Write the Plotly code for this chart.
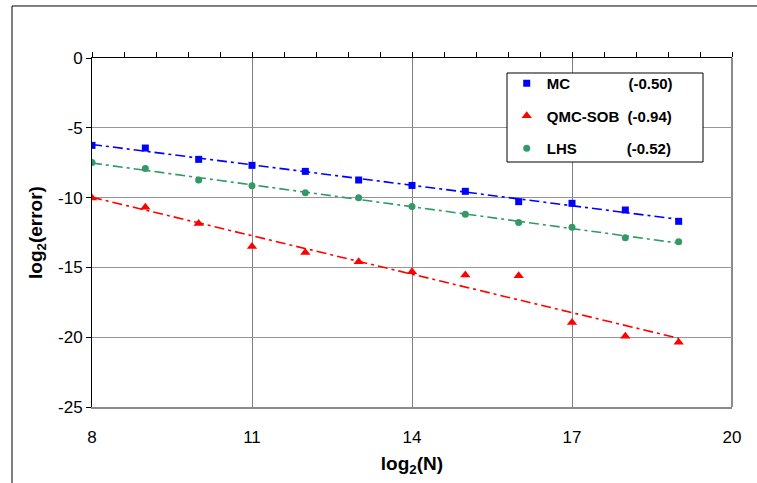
import numpy as np
import plotly.graph_objects as go

# ---- data ----
log2N = [8, 9, 10, 11, 12, 13, 14, 15, 16, 17, 18, 19]
mc = [-6.26, -6.45, -7.26, -7.69, -8.12, -8.74, -9.13, -9.55, -10.29, -10.41, -10.89, -11.70]
qmc = [-10.03, -10.70, -11.85, -13.50, -13.93, -14.59, -15.32, -15.55, -15.60, -18.94, -19.94, -20.37]
lhs = [-7.48, -7.91, -8.74, -9.15, -9.65, -10.01, -10.63, -11.20, -11.78, -12.13, -12.87, -13.16]
series_names = ["MC", "QMC-SOB", "LHS"]
slope_labels = ["(-0.50)", "(-0.94)", "(-0.52)"]
x_ticks = [8, 11, 14, 17, 20]
y_ticks = [0, -5, -10, -15, -20, -25]
y_ticktext = ["0", "-5", "-10", "-15", "-20", "-25"]

colors = ["#0000FF", "#FF0000", "#339966"]
symbols = ["square", "triangle-up", "circle"]
msizes = [7, 9, 7]
pads = [14, 2, 12]
FONT = "Arial, 'Liberation Sans', sans-serif"
NB = "\u00a0"

fig = go.Figure()
x = np.array(log2N, dtype=float)
for i, ys in enumerate([mc, qmc, lhs]):
    ys = np.array(ys)
    name = series_names[i] + NB * pads[i] + slope_labels[i]
    fig.add_trace(go.Scatter(
        x=x, y=ys, mode="markers", name=name, legendgroup=series_names[i],
        marker=dict(symbol=symbols[i], size=msizes[i], color=colors[i], line=dict(width=0)),
    ))
    k, b = np.polyfit(x, ys, 1)
    fig.add_trace(go.Scatter(
        x=x, y=k * x + b, mode="lines", showlegend=False, xaxis="x2",
        line=dict(color=colors[i], width=1.6, dash="10px,4px,3px,4px"),
        hoverinfo="skip",
    ))

fig.update_layout(
    width=757, height=483,
    margin=dict(l=92, r=25, t=58, b=76),
    paper_bgcolor="white", plot_bgcolor="white",
    font=dict(family=FONT, color="black"),
    showlegend=True,
    legend=dict(
        x=0.648, y=0.974, xanchor="left", yanchor="top",
        borderwidth=0, bgcolor="rgba(0,0,0,0)",
        font=dict(family=FONT, size=15, color="black", weight="bold"),
        tracegroupgap=10, itemsizing="trace",
    ),
    xaxis=dict(
        range=[8, 20], tickvals=x_ticks, showgrid=True, gridcolor="#808080", gridwidth=1,
        showline=True, linecolor="#8a8a8a", linewidth=2, ticks="", zeroline=False,
        tickfont=dict(size=17, family=FONT), ticklabelstandoff=14,
        title=dict(text="<b>log<sub>2</sub>(N)</b>", font=dict(size=19, family=FONT), standoff=10),
    ),
    xaxis2=dict(
        range=[8, 20], overlaying="x", side="top", anchor="y", tick0=8, dtick=0.6,
        ticks="outside", ticklen=5, tickcolor="black", showticklabels=False,
        showline=True, linecolor="black", linewidth=1, showgrid=False, zeroline=False,
    ),
    yaxis=dict(
        range=[-25, 0], tickvals=y_ticks, ticktext=y_ticktext, showgrid=True,
        gridcolor="#969696", gridwidth=1,
        showline=True, linecolor="black", linewidth=1, ticks="outside", ticklen=5,
        tickcolor="black", zeroline=False, tickfont=dict(size=17, family=FONT),
        title=dict(text="<b>log<sub>2</sub>(error)</b>", font=dict(size=19, family=FONT), standoff=10),
    ),
    shapes=[
        dict(type="line", xref="paper", yref="paper", x0=1, x1=1, y0=0, y1=1,
             line=dict(color="#8a8a8a", width=2), layer="below"),
        dict(type="rect", xref="paper", yref="paper",
             x0=(507 - 92) / 640, x1=(703 - 92) / 640,
             y0=(407 - 162) / 349, y1=(407 - 73) / 349,
             line=dict(color="black", width=1), fillcolor="white", layer="above"),
        dict(type="line", xref="paper", yref="paper", x0=-0.125, x1=-0.125, y0=-0.4, y1=1.149,
             line=dict(color="black", width=1)),
        dict(type="line", xref="paper", yref="paper", x0=-0.125, x1=1.2, y0=1.149, y1=1.149,
             line=dict(color="black", width=1)),
    ],
)

fig.write_html("out.html")
